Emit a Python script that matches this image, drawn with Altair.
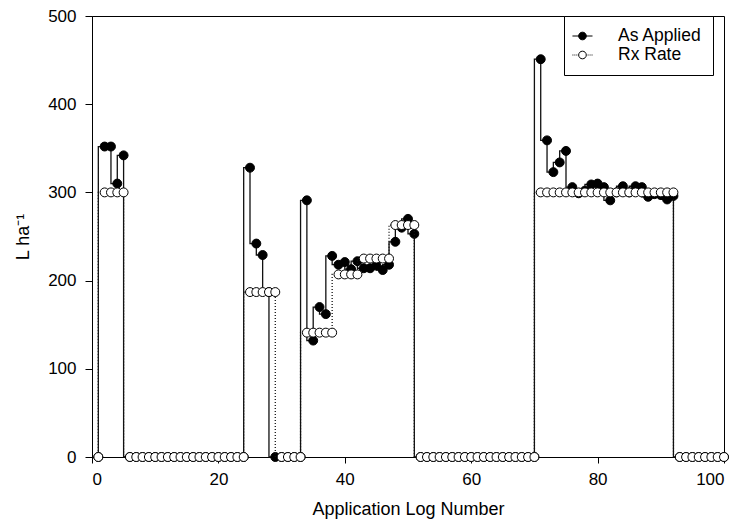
import altair as alt
import pandas as pd

# Application log numbers
log_number = list(range(1, 101))

# As Applied rate (L/ha)
as_applied = [
    0,
    352, 352, 310, 342,
    0, 0, 0, 0, 0, 0, 0, 0, 0, 0, 0, 0, 0, 0, 0, 0, 0, 0, 0,
    328, 242, 229, 187,
    0, 0, 0, 0, 0,
    291, 132, 170, 162, 228, 218, 221, 213, 222, 214, 214, 217, 212, 218, 244, 260, 270, 253,
    0, 0, 0, 0, 0, 0, 0, 0, 0, 0, 0, 0, 0, 0, 0, 0, 0, 0, 0,
    451, 359, 323, 334, 347, 306, 299, 302, 309, 310, 306, 291, 300, 307, 300, 307, 306, 295, 298, 297, 292, 296,
    0, 0, 0, 0, 0, 0, 0, 0,
]

# Prescription (Rx) rate (L/ha)
rx_rate = [
    0,
    300, 300, 300, 300,
    0, 0, 0, 0, 0, 0, 0, 0, 0, 0, 0, 0, 0, 0, 0, 0, 0, 0, 0,
    187, 187, 187, 187, 187,
    0, 0, 0, 0,
    141, 141, 141, 141, 141,
    207, 207, 207, 207,
    225, 225, 225, 225, 225,
    263, 263, 263, 263,
    0, 0, 0, 0, 0, 0, 0, 0, 0, 0, 0, 0, 0, 0, 0, 0, 0, 0, 0,
    300, 300, 300, 300, 300, 300, 300, 300, 300, 300, 300, 300, 300, 300, 300, 300, 300, 300, 300, 300, 300, 300,
    0, 0, 0, 0, 0, 0, 0, 0,
]

series_names = ["As Applied", "Rx Rate"]
x_ticks = [0, 20, 40, 60, 80, 100]
y_ticks = [0, 100, 200, 300, 400, 500]

df = pd.concat([
    pd.DataFrame({"x": log_number, "value": as_applied, "series": series_names[0]}),
    pd.DataFrame({"x": log_number, "value": rx_rate, "series": series_names[1]}),
], ignore_index=True)

FONT = "Liberation Sans"

x_enc = alt.X("x:Q", scale=alt.Scale(domain=[0, 100], nice=False),
              axis=alt.Axis(values=x_ticks, title="Application Log Number", grid=False,
                            tickSize=6, labelPadding=8, titlePadding=13))
y_enc = alt.Y("value:Q", scale=alt.Scale(domain=[0, 500], nice=False),
              axis=alt.Axis(values=y_ticks, title="L ha\u207b\u00b9", grid=False,
                            tickSize=7, labelPadding=9, titlePadding=15))

base = alt.Chart(df).encode(x=x_enc, y=y_enc)

applied_line = base.transform_filter(alt.datum.series == series_names[0]).mark_line(
    interpolate="step-before", color="#111111", strokeWidth=1.3)
applied_pts = base.transform_filter(alt.datum.series == series_names[0]).mark_point(
    shape="circle", filled=True, fill="black", stroke="black", strokeWidth=1, size=80, opacity=1)
rx_line = base.transform_filter(alt.datum.series == series_names[1]).mark_line(
    interpolate="step-before", color="#111111", strokeWidth=1.3, strokeDash=[1, 2])
rx_pts = base.transform_filter(alt.datum.series == series_names[1]).mark_point(
    shape="circle", filled=False, fill="white", stroke="black", strokeWidth=1, size=80, opacity=1)

# legend symbols: line sample with a circle in the middle (shifted slightly left)
sym_applied = ("M-1.36,0L1.0,0 "
               "M-0.63,0A0.45,0.45,0,1,0,0.27,0A0.45,0.45,0,1,0,-0.63,0Z")
sym_rx = ("M-1.36,0L-1.25,0M-1.13,0L-1.02,0M-0.9,0L-0.79,0 "
          "M0.43,0L0.54,0M0.66,0L0.77,0M0.89,0L1.0,0 "
          "M-0.63,0A0.45,0.45,0,1,0,0.27,0A0.45,0.45,0,1,0,-0.63,0Z")

leg = alt.Legend(title=None, orient="none", legendX=472, legendY=0,
                 strokeColor="black", fillColor="white", padding=11,
                 labelFont=FONT, labelFontSize=17.5, labelColor="black",
                 labelOffset=25, symbolSize=289, symbolStrokeWidth=1,
                 symbolStrokeColor="black", rowPadding=1,
                 labelExpr="datum.label + '  '")

legend_layer = alt.Chart(df).transform_filter("false").mark_point(
    stroke="black", strokeWidth=1, opacity=1, size=289).encode(
    x=alt.X("x:Q"), y=alt.Y("value:Q"),
    shape=alt.Shape("series:N", scale=alt.Scale(domain=series_names, range=[sym_applied, sym_rx]), legend=leg),
    fill=alt.Fill("series:N", scale=alt.Scale(domain=series_names, range=["black", "white"]), legend=leg),
    stroke=alt.Stroke("series:N", scale=alt.Scale(domain=series_names, range=["black", "black"]), legend=leg),
)

chart = alt.layer(applied_line, applied_pts, rx_line, rx_pts, legend_layer).properties(
    width=632, height=441,
    padding={"left": 84, "top": 8, "right": 6, "bottom": 64},
    autosize="none",
).configure_view(stroke="black", strokeWidth=1).configure_axis(
    domainColor="black", tickColor="black", labelColor="black", titleColor="black",
    labelFont=FONT, titleFont=FONT, labelFontSize=17, titleFontSize=18,
    titleFontWeight="normal", domainWidth=1, tickWidth=1,
)

chart.save("out.html", embed_options={"renderer": "svg", "actions": False})
